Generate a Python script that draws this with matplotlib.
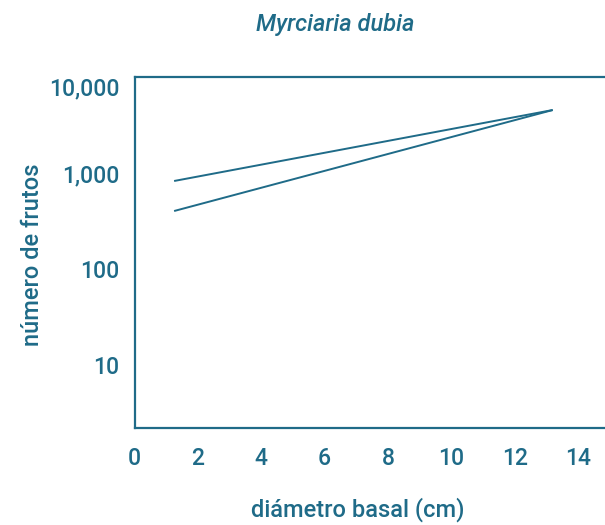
import matplotlib
matplotlib.use("Agg")
import matplotlib.pyplot as plt
from matplotlib.ticker import FixedLocator, FixedFormatter, NullLocator

# Fitted curves: fruit count vs basal diameter (log scale)
diam = [1.25, 13.2]
curve_upper = [826, 4530]
curve_lower = [402, 4530]

y_ticks = [10, 100, 1000, 10000]
y_tick_labels = ["10", "100", "1,000", "10,000"]
x_ticks = [0, 2, 4, 6, 8, 10, 12, 14]
x_tick_labels = ["0", "2", "4", "6", "8", "10", "12", "14"]

color = "#1f6b88"
plt.rcParams["font.family"] = ["Roboto", "DejaVu Sans"]
plt.rcParams["font.weight"] = "medium"

fig = plt.figure(figsize=(6.05, 5.25), dpi=100)
ax = fig.add_axes([134.5 / 605, 97 / 525, 1 - 134.5 / 605, 351 / 525])

ax.plot(diam, curve_upper, color=color, lw=1.4, solid_capstyle="butt")
ax.plot(diam, curve_lower, color=color, lw=1.4, solid_capstyle="butt")

ax.set_yscale("log")
ax.set_ylim(2.21, 10000)
ax.set_xlim(0, 14.85)

ax.yaxis.set_major_locator(FixedLocator(y_ticks))
ax.yaxis.set_major_formatter(FixedFormatter(y_tick_labels))
ax.yaxis.set_minor_locator(NullLocator())
ax.xaxis.set_major_locator(FixedLocator(x_ticks))
ax.xaxis.set_major_formatter(FixedFormatter(x_tick_labels))

ax.tick_params(axis="both", length=0, labelsize=16.5, labelcolor=color)
ax.tick_params(axis="x", pad=14)
ax.tick_params(axis="y", pad=11)
for lbl in ax.get_yticklabels():
    if lbl.get_text() == "10,000":
        lbl.set_va("top")

for side in ("left", "top", "bottom"):
    ax.spines[side].set_color(color)
    ax.spines[side].set_linewidth(1.6)
ax.spines["right"].set_visible(False)

fig.text(335 / 605, 1 - 25 / 525, "Myrciaria dubia", style="italic",
         color=color, fontsize=17, ha="center", va="center")
fig.text(358 / 605, 1 - 510 / 525, "diámetro basal (cm)", color=color,
         fontsize=17, ha="center", va="center")
fig.text(33 / 605, 1 - 255 / 525, "número de frutos", color=color,
         fontsize=17, ha="center", va="center", rotation=90)

fig.savefig("out.png", dpi=100)
